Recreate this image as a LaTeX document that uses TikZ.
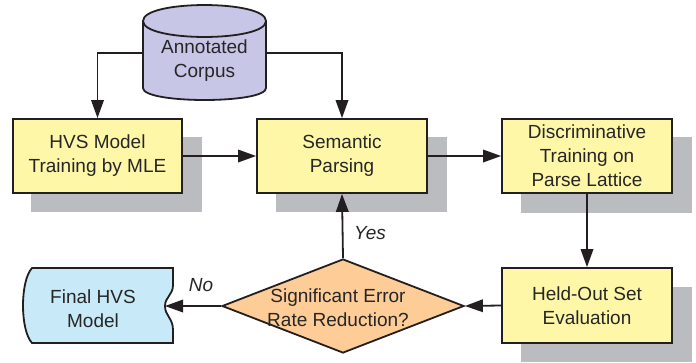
\documentclass[tikz,border=0pt]{standalone}
\usepackage{fontspec}
\setmainfont{Liberation Sans}
\usetikzlibrary{arrows.meta,shapes.geometric}

\definecolor{inkline}{HTML}{231F20}
\definecolor{inktext}{HTML}{262626}
\definecolor{boxyellow}{HTML}{FFF7A8}
\definecolor{cylviolet}{HTML}{C8C6E6}
\definecolor{decorange}{HTML}{FDCC97}
\definecolor{finalblue}{HTML}{C8E9F8}
\definecolor{shadowgrey}{HTML}{BBBCBF}

\tikzset{
  every node/.style={font=\fontsize{19}{24}\selectfont, text=inktext},
  procbox/.style={draw=inkline, line width=1.8pt, fill=boxyellow,
    minimum width=170pt, minimum height=74pt, align=center, inner sep=0pt},
  boxshadow/.style={fill=shadowgrey},
  flow/.style={draw=inkline, line width=1.8pt,
    -{Triangle[length=18pt,width=12.5pt]}},
  outline/.style={draw=inkline, line width=1.8pt},
  lbl/.style={font=\fontsize{19}{24}\selectfont\itshape},
}

\begin{document}
\begin{tikzpicture}[x=1pt, y=-1pt]
\useasboundingbox (0,0) rectangle (696,362);

% drop shadows behind the process boxes
\fill[boxshadow] (31,137) rectangle (202,212);
\fill[boxshadow] (276,137) rectangle (447,212);
\fill[boxshadow] (521,137) rectangle (692,213);
\fill[boxshadow] (521,287) rectangle (692,362);

% process boxes
\node[procbox, minimum width=169pt] (hvs) at (97.5,156) {HVS Model\\Training by MLE};
\node[procbox] (sem) at (342,156) {Semantic\\Parsing};
\node[procbox] (disc) at (587,156) {Discriminative\\Training on\\Parse Lattice};
\node[procbox, minimum height=75pt] (held) at (587,305.5) {Held-Out Set\\Evaluation};

% annotated corpus (database cylinder)
\path[outline, fill=cylviolet]
  (143,21) -- (143,88) .. controls (143,104) and (266,104) .. (266,88)
  -- (266,21) .. controls (266,-0.3) and (143,-0.3) .. (143,21) -- cycle;
\draw[outline]
  (143,21) .. controls (143,42.3) and (266,42.3) .. (266,21);
\node[minimum width=123pt, minimum height=95pt, inner sep=0pt] (corpus) at (204.5,53) {};
\node[align=center] at (204.5,61) {Annotated\\Corpus};

% decision diamond
\node[diamond, outline, fill=decorange, minimum width=242pt, minimum height=94pt,
  inner sep=0pt] (dec) at (343,306) {};
\node[align=center] at (338,308) {Significant Error\\Rate Reduction?};

% final model (stored data)
\path[outline, fill=finalblue]
  (32,268) -- (173,268) -- (173,285)
  .. controls (173,295) and (165,297) .. (165,306)
  .. controls (165,316) and (173,318) .. (173,330)
  -- (173,343) -- (32,343)
  .. controls (20,330) and (20,281) .. (32,268) -- cycle;
\coordinate (finaltip) at (165,306);
\node[align=center] (final) at (93,309) {Final HVS\\Model};

% connectors
\draw[flow] (corpus.west) -| (hvs.north);
\draw[flow] (corpus.east) -| (sem.north);
\draw[flow] (hvs.east |- sem.west) -- (sem.west);
\draw[flow] (sem.east) -- (disc.west);
\draw[flow] (disc.south) -- (held.north);
\draw[flow] (held.west) -- (dec.east);
\draw[flow] (dec.north) -- (sem.south);
\draw[flow] (dec.west) -- (finaltip);

% branch labels
\node[lbl] at (370,233) {Yes};
\node[lbl] at (201,285) {No};
\end{tikzpicture}
\end{document}
